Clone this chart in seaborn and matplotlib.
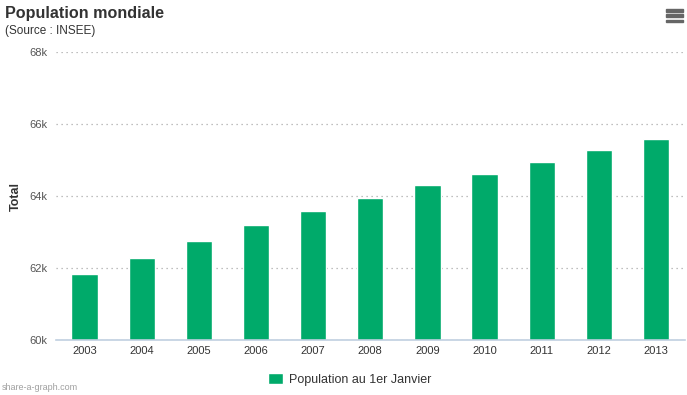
import matplotlib
matplotlib.use("Agg")
import matplotlib.pyplot as plt
import seaborn as sns
import pandas as pd
import numpy as np
from matplotlib.patches import Rectangle

years = ['2003', '2004', '2005', '2006', '2007', '2008', '2009', '2010', '2011', '2012', '2013']
population = [61830, 62270, 62740, 63190, 63600, 63960, 64320, 64620, 64950, 65280, 65590]
yticks = [60000, 62000, 64000, 66000, 68000]
ytick_labels = ['60k', '62k', '64k', '66k', '68k']

df = pd.DataFrame({'Année': years, 'Population': population})

sns.set_style("white")
plt.rcParams['font.family'] = ['Liberation Sans', 'DejaVu Sans']

fig = plt.figure(figsize=(6.87, 3.95), dpi=100)
ax = fig.add_axes([0.0815, 0.139, 0.915, 0.729])

sns.barplot(data=df, x='Année', y='Population', color='#00AA6A', width=0.46,
            saturation=1, ax=ax, label='Population au 1er Janvier')

ax.set_ylim(60000, 68000)
ax.set_xlim(-0.5, len(years) - 0.5)
ax.set_yticks(yticks)
ax.set_yticklabels(ytick_labels)
ax.yaxis.grid(True, linestyle=(0, (1, 3)), color='#AAAAAA', linewidth=0.9)
ax.set_axisbelow(True)

for s in ['top', 'right', 'left']:
    ax.spines[s].set_visible(False)
ax.spines['bottom'].set_color('#C0D0E0')
ax.spines['bottom'].set_linewidth(1.2)

ax.tick_params(axis='y', length=0, labelsize=8, labelcolor='#555555', pad=6)
ax.tick_params(axis='x', which='major', length=0, labelsize=8, labelcolor='#333333', pad=4)
ax.set_xticks(np.arange(-0.5, len(years) + 0.5, 1), minor=True)
ax.tick_params(axis='x', which='minor', length=5, color='#C0D0E0', width=1.2)

ax.set_xlabel('')
ax.set_ylabel('Total', fontsize=9, fontweight='bold', color='#333333')
ax.yaxis.set_label_coords(-0.054, 0.5)

fig.text(0.007, 0.955, 'Population mondiale', fontsize=11.6, fontweight='bold', color='#333333')
fig.text(0.007, 0.915, '(Source : INSEE)', fontsize=8.5, color='#333333')
fig.text(0.003, 0.013, 'share-a-graph.com', fontsize=6.5, color='#A0A0A0')

# menu icon
for yy in [0.970, 0.957, 0.944]:
    fig.patches.append(Rectangle((0.969, yy), 0.025, 0.0065, transform=fig.transFigure,
                                 color='#666666'))

ax.legend(loc='upper center', bbox_to_anchor=(0.467, -0.075), frameon=False, fontsize=9,
          handlelength=1.2, handleheight=1.0, labelcolor='#333333', handletextpad=0.5)

fig.savefig('out.png', dpi=100)
